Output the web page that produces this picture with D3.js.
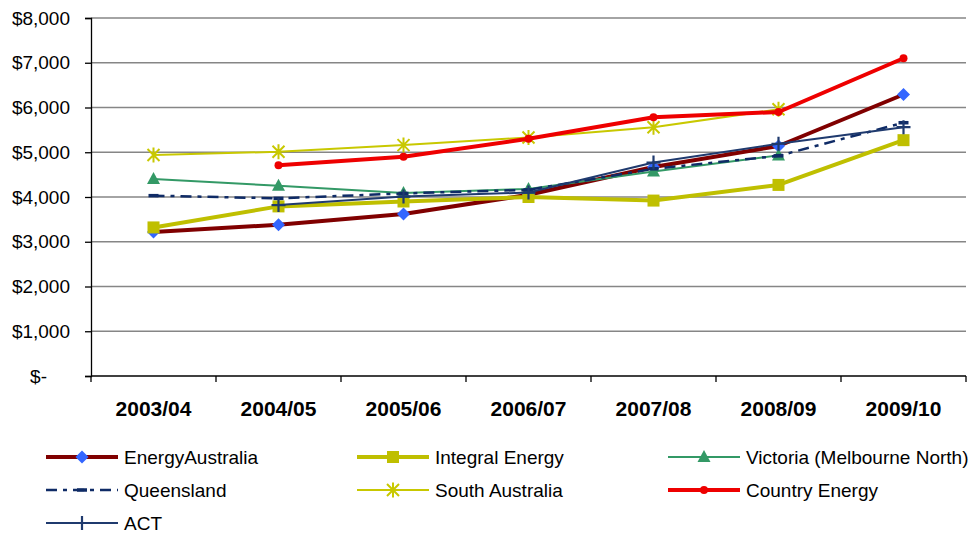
<!DOCTYPE html>
<html>
<head>
<meta charset="utf-8">
<script src="https://cdn.jsdelivr.net/npm/d3@7"></script>
<style>
  html, body { margin: 0; padding: 0; background: #fff; }
  svg { display: block; font-family: "Liberation Sans", Arial, sans-serif; }
</style>
</head>
<body>
<svg id="chart" width="974" height="537"></svg>
<script>
// Annual cost by distribution area
const years = ["2003/04", "2004/05", "2005/06", "2006/07", "2007/08", "2008/09", "2009/10"];
const yTicks = [0, 1000, 2000, 3000, 4000, 5000, 6000, 7000, 8000];

const energyAustralia = [3220, 3380, 3620, 4050, 4670, 5140, 6290];
const integralEnergy  = [3320, 3790, 3900, 4000, 3920, 4270, 5270];
const victoria        = [4400, 4250, 4090, 4180, 4570, 4930, null];
const queensland      = [4030, 3970, 4080, 4160, 4630, 4920, 5660];
const southAustralia  = [4940, 5010, 5160, 5330, 5560, 5960, null];
const countryEnergy   = [null, 4710, 4900, 5300, 5780, 5900, 7100];
const act             = [null, 3820, 4010, 4100, 4770, 5190, 5560];

const series = [
  { name: "EnergyAustralia", values: energyAustralia, color: "#800000", width: 4, marker: "diamond", mcolor: "#3366FF" },
  { name: "Integral Energy", values: integralEnergy, color: "#BFBF00", width: 4, marker: "square", mcolor: "#BFBF00" },
  { name: "Victoria (Melbourne North)", values: victoria, color: "#339966", width: 2, marker: "triangle", mcolor: "#339966" },
  { name: "Queensland", values: queensland, color: "#0F2B66", width: 2.5, dash: "11,6,4,6", marker: "dash", mcolor: "#0F2B66" },
  { name: "South Australia", values: southAustralia, color: "#C8C800", width: 2, marker: "star", mcolor: "#C8C800" },
  { name: "Country Energy", values: countryEnergy, color: "#EE0000", width: 4, marker: "circle", mcolor: "#EE0000" },
  { name: "ACT", values: act, color: "#1F3A6E", width: 2, marker: "plus", mcolor: "#1F3A6E" }
];

const svg = d3.select("#chart");
const plotLeft = 91, plotRight = 966, plotTop = 18, plotBottom = 376;

const x = d3.scaleBand().domain(years).range([plotLeft, plotRight]);
const y = d3.scaleLinear().domain([0, 8000]).range([plotBottom, plotTop]);

// Horizontal gridlines
svg.append("g").selectAll("line").data(yTicks.filter(d => d > 0)).join("line")
  .attr("x1", plotLeft).attr("x2", plotRight)
  .attr("y1", d => y(d)).attr("y2", d => y(d))
  .attr("stroke", "#868686").attr("stroke-width", 1.3);

// Y axis (accounting-style labels, zero shown as "$-")
const yAxis = svg.append("g").attr("transform", `translate(${plotLeft},0)`)
  .call(d3.axisLeft(y).tickValues(yTicks).tickSize(6).tickPadding(15)
    .tickFormat(d => d === 0 ? "$-" : "$" + d3.format(",")(d)));
yAxis.select(".domain").attr("stroke", "#000").attr("stroke-width", 1.3);
yAxis.selectAll(".tick line").attr("stroke", "#000").attr("stroke-width", 1.3);
yAxis.selectAll(".tick text").attr("font-size", 19).attr("fill", "#000")
  .attr("font-family", "Liberation Sans, Arial, sans-serif")
  .attr("dx", d => d === 0 ? -23 : 0);

// X axis with tick marks between categories
const xAxisG = svg.append("g");
xAxisG.append("line").attr("x1", plotLeft).attr("x2", plotRight).attr("y1", plotBottom).attr("y2", plotBottom)
  .attr("stroke", "#000").attr("stroke-width", 1.3);
const bounds = years.map(d => x(d)).concat([x(years[years.length - 1]) + x.bandwidth()]);
xAxisG.selectAll("line.tk").data(bounds).join("line").attr("class", "tk")
  .attr("x1", d => d).attr("x2", d => d).attr("y1", plotBottom).attr("y2", plotBottom + 6)
  .attr("stroke", "#000").attr("stroke-width", 1.3);
xAxisG.selectAll("text").data(years).join("text")
  .attr("x", d => x(d) + x.bandwidth() / 2).attr("y", 416)
  .attr("text-anchor", "middle").attr("font-size", 21).attr("font-weight", "bold")
  .text(d => d);

const cx = d => x(d) + x.bandwidth() / 2;

function drawMarker(g, s, px, py) {
  const c = s.mcolor;
  if (s.marker === "diamond") {
    const r = 6.5;
    g.append("path").attr("d", `M${px},${py - r}L${px + r},${py}L${px},${py + r}L${px - r},${py}Z`).attr("fill", c);
  } else if (s.marker === "square") {
    g.append("rect").attr("x", px - 6).attr("y", py - 6).attr("width", 12).attr("height", 12).attr("fill", c);
  } else if (s.marker === "triangle") {
    g.append("path").attr("d", `M${px},${py - 7}L${px + 6.5},${py + 5}L${px - 6.5},${py + 5}Z`).attr("fill", c);
  } else if (s.marker === "circle") {
    g.append("circle").attr("cx", px).attr("cy", py).attr("r", 4).attr("fill", c);
  } else if (s.marker === "dash") {
    g.append("line").attr("x1", px - 5).attr("x2", px + 5).attr("y1", py).attr("y2", py).attr("stroke", c).attr("stroke-width", 3.5);
  } else if (s.marker === "star") {
    const r = 6;
    const p = `M${px - r},${py - r}L${px + r},${py + r}M${px - r},${py + r}L${px + r},${py - r}M${px},${py - r - 1.5}L${px},${py + r + 1.5}`;
    g.append("path").attr("d", p).attr("stroke", c).attr("stroke-width", 2).attr("fill", "none");
  } else if (s.marker === "plus") {
    const r = 7;
    g.append("path").attr("d", `M${px - r},${py}L${px + r},${py}M${px},${py - r}L${px},${py + r}`)
      .attr("stroke", c).attr("stroke-width", 2.2).attr("fill", "none");
  }
}

// Series lines and markers
series.forEach(s => {
  const pts = years.map((yr, i) => ({ yr, v: s.values[i] })).filter(p => p.v !== null);
  const line = d3.line().x(p => cx(p.yr)).y(p => y(p.v));
  const g = svg.append("g");
  g.append("path").datum(pts).attr("d", line)
    .attr("fill", "none").attr("stroke", s.color).attr("stroke-width", s.width)
    .attr("stroke-linejoin", "round")
    .attr("stroke-dasharray", s.dash || null);
  pts.forEach(p => drawMarker(g, s, cx(p.yr), y(p.v)));
});

// Legend
const legCols = [46, 357, 668];
const legRows = [457, 490, 523];
series.forEach((s, i) => {
  const lx = legCols[i % 3], ly = legRows[Math.floor(i / 3)];
  const g = svg.append("g");
  g.append("line").attr("x1", lx).attr("x2", lx + 72).attr("y1", ly).attr("y2", ly)
    .attr("stroke", s.color).attr("stroke-width", s.width)
    .attr("stroke-dasharray", s.dash || null);
  drawMarker(g, s, lx + 36, ly);
  g.append("text").attr("x", lx + 78).attr("y", ly + 7).attr("font-size", 19).attr("fill", "#000").text(s.name);
});
</script>
</body>
</html>
